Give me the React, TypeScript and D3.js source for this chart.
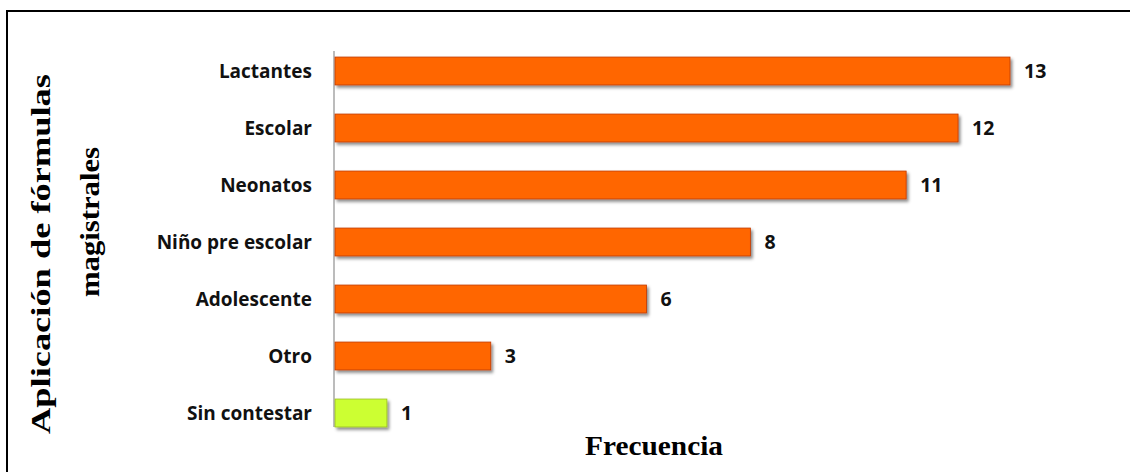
import React, { useEffect, useRef } from 'react';
import * as d3 from 'd3';

// datos del gráfico
const categorias = ['Lactantes', 'Escolar', 'Neonatos', 'Niño pre escolar', 'Adolescente', 'Otro', 'Sin contestar'];
const frecuencias = [13, 12, 11, 8, 6, 3, 1];
const colores = ['#FF6600', '#FF6600', '#FF6600', '#FF6600', '#FF6600', '#FF6600', '#CCFF33'];
const bordes = ['#C03A00', '#C03A00', '#C03A00', '#C03A00', '#C03A00', '#C03A00', '#9ABF20'];
const tituloY = ['Aplicación de fórmulas', 'magistrales'];
const tituloX = 'Frecuencia';

const W = 1130;
const H = 472;

const App = () => {
    const svgRef = useRef<SVGSVGElement>(null);

    useEffect(() => {
        const svg = d3.select(svgRef.current);
        svg.selectAll('*').remove();

        // sombra de las barras
        const defs = svg.append('defs');
        const f = defs.append('filter').attr('id', 'sombra').attr('x', '-5%').attr('y', '-20%').attr('width', '115%').attr('height', '160%');
        f.append('feDropShadow')
            .attr('dx', 2).attr('dy', 2.5).attr('stdDeviation', 1.6)
            .attr('flood-color', '#000').attr('flood-opacity', 0.45);

        // marco
        svg.append('line').attr('x1', 6).attr('x2', W).attr('y1', 11).attr('y2', 11)
            .attr('stroke', '#000').attr('stroke-width', 2);
        svg.append('line').attr('x1', 7).attr('x2', 7).attr('y1', 10).attr('y2', H)
            .attr('stroke', '#000').attr('stroke-width', 2);

        // escalas
        const x = d3.scaleLinear().domain([0, 13]).range([335, 1010]);
        const y = d3.scaleBand<string>()
            .domain(categorias)
            .range([42.5, 441.5])
            .paddingInner(0.51)
            .paddingOuter(0.255);

        // eje vertical
        svg.append('line')
            .attr('x1', 334).attr('x2', 334).attr('y1', 51).attr('y2', 427)
            .attr('stroke', '#A6A6A6').attr('stroke-width', 1.5);

        const datos = categorias.map((c, i) => ({ c, v: frecuencias[i], col: colores[i], b: bordes[i] }));

        // barras
        svg.append('g')
            .selectAll('rect')
            .data(datos)
            .enter()
            .append('rect')
            .attr('x', x(0))
            .attr('y', d => y(d.c)!)
            .attr('width', d => x(d.v) - x(0))
            .attr('height', y.bandwidth())
            .attr('fill', d => d.col)
            .attr('stroke', d => d.b)
            .attr('stroke-width', 0.8)
            .attr('filter', 'url(#sombra)');

        // etiquetas de categoría
        svg.append('g')
            .selectAll('text')
            .data(datos)
            .enter()
            .append('text')
            .attr('x', 312)
            .attr('y', d => y(d.c)! + y.bandwidth() / 2)
            .attr('dy', '0.36em')
            .attr('text-anchor', 'end')
            .attr('font-family', '"Open Sans", sans-serif')
            .attr('font-weight', 700)
            .attr('font-size', 19)
            .attr('fill', '#111')
            .text(d => d.c);

        // valores
        svg.append('g')
            .selectAll('text')
            .data(datos)
            .enter()
            .append('text')
            .attr('x', d => x(d.v) + 14)
            .attr('y', d => y(d.c)! + y.bandwidth() / 2)
            .attr('dy', '0.36em')
            .attr('font-family', '"Open Sans", sans-serif')
            .attr('font-weight', 700)
            .attr('font-size', 19.5)
            .attr('fill', '#111')
            .text(d => d.v);

        // título eje x
        svg.append('text')
            .attr('x', 654).attr('y', 455)
            .attr('text-anchor', 'middle')
            .attr('font-family', '"Liberation Serif", "Times New Roman", serif')
            .attr('font-weight', 700)
            .attr('font-size', 28)
            .attr('textLength', 138)
            .attr('lengthAdjust', 'spacingAndGlyphs')
            .attr('fill', '#000')
            .text(tituloX);

        // título eje y (dos líneas)
        const ty = [
            { t: tituloY[0], bx: 50, cy: 254, len: 360 },
            { t: tituloY[1], bx: 99, cy: 222, len: 150 },
        ];
        svg.append('g')
            .selectAll('text')
            .data(ty)
            .enter()
            .append('text')
            .attr('transform', d => `translate(${d.bx},${d.cy}) rotate(-90)`)
            .attr('text-anchor', 'middle')
            .attr('font-family', '"Liberation Serif", "Times New Roman", serif')
            .attr('font-weight', 700)
            .attr('font-size', 28)
            .attr('textLength', d => d.len)
            .attr('lengthAdjust', 'spacingAndGlyphs')
            .attr('fill', '#000')
            .text(d => d.t);
    }, []);

    return (
        <div style={{ position: 'absolute', left: 0, top: 0 }}>
            <svg ref={svgRef} width={W} height={H} style={{ display: 'block', background: '#fff' }} />
        </div>
    );
};

export default App;
